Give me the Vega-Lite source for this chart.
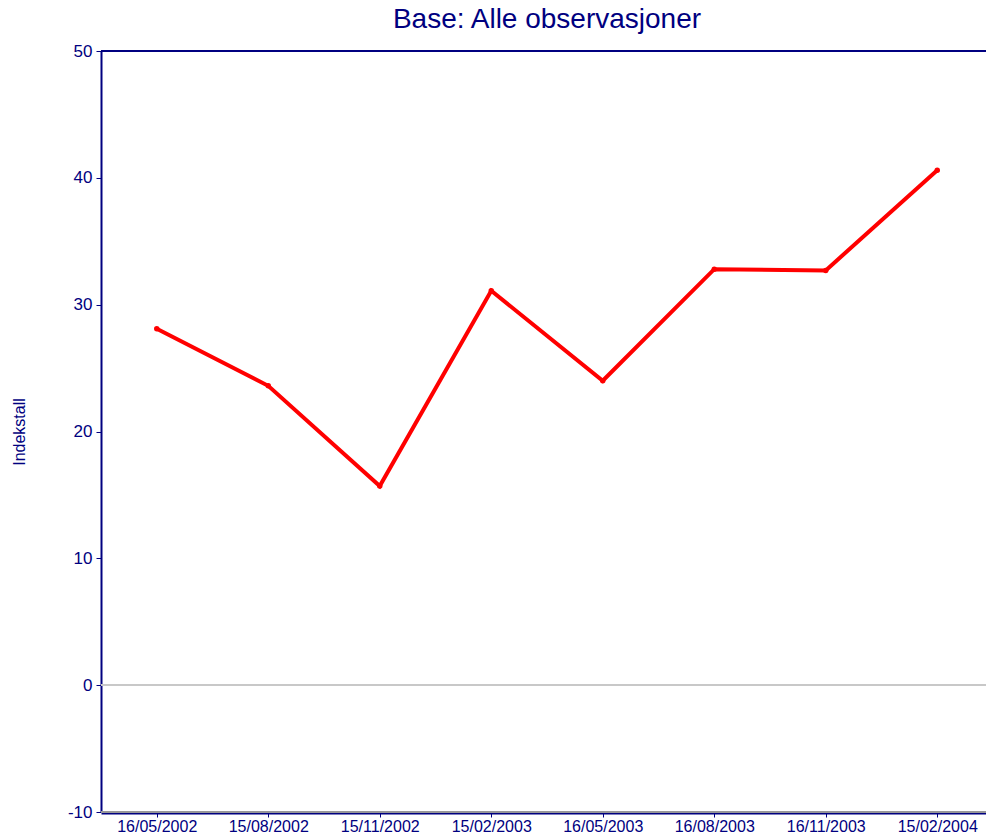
{
  "$schema": "https://vega.github.io/schema/vega-lite/v6.json",
  "autosize": "none",
  "width": 892,
  "height": 761,
  "padding": {"left": 101, "top": 51, "right": 0, "bottom": 25},
  "background": "white",
  "config": {"view": {"stroke": null}, "font": "Liberation Sans"},
  "title": {"text": "Base: Alle observasjoner", "fontSize": 28, "font": "Liberation Sans", "fontWeight": "normal", "color": "#000080", "offset": 8},
  "data": {"values": [
    {"dato": "16/05/2002", "v": 28.1},
    {"dato": "15/08/2002", "v": 23.6},
    {"dato": "15/11/2002", "v": 15.7},
    {"dato": "15/02/2003", "v": 31.1},
    {"dato": "16/05/2003", "v": 24.0},
    {"dato": "16/08/2003", "v": 32.8},
    {"dato": "16/11/2003", "v": 32.7},
    {"dato": "15/02/2004", "v": 40.6}
  ]},
  "encoding": {
    "x": {"field": "dato", "type": "ordinal", "sort": null,
      "scale": {"type": "point", "padding": 0.5},
      "axis": {"title": null, "labelAngle": 0, "labelColor": "#000080", "labelFontSize": 16, "labelPadding": 1,
        "domainColor": "#000080", "domainWidth": 2, "tickColor": "#000080", "tickSize": 4, "grid": false, "offset": 1}},
    "y": {"field": "v", "type": "quantitative",
      "scale": {"domain": [-10, 50], "nice": false, "zero": false},
      "axis": {"title": "Indekstall", "titleColor": "#000080", "titleFontSize": 16, "titleFontWeight": "normal", "titlePadding": 40,
        "values": [-10, 0, 10, 20, 30, 40, 50], "labelExpr": "datum.value + ''", "labelColor": "#000080", "labelFontSize": 17, "labelPadding": 4,
        "domainColor": "#000080", "domainWidth": 2, "tickColor": "#000080", "tickSize": 5, "grid": false}}
  },
  "layer": [
    {"mark": {"type": "rule", "color": "#c8c8c8", "strokeWidth": 1.5}, "encoding": {"x": null, "y": {"datum": 0}}},
    {"mark": {"type": "rule", "color": "#000080", "strokeWidth": 2}, "encoding": {"x": null, "y": {"datum": 50}}},
    {"mark": {"type": "rule", "color": "#999999", "strokeWidth": 1.5}, "encoding": {"x": null, "y": {"datum": -10}}},
    {"mark": {"type": "line", "color": "#ff0000", "strokeWidth": 4, "point": {"filled": true, "color": "#ff0000", "size": 30}}}
  ]
}
